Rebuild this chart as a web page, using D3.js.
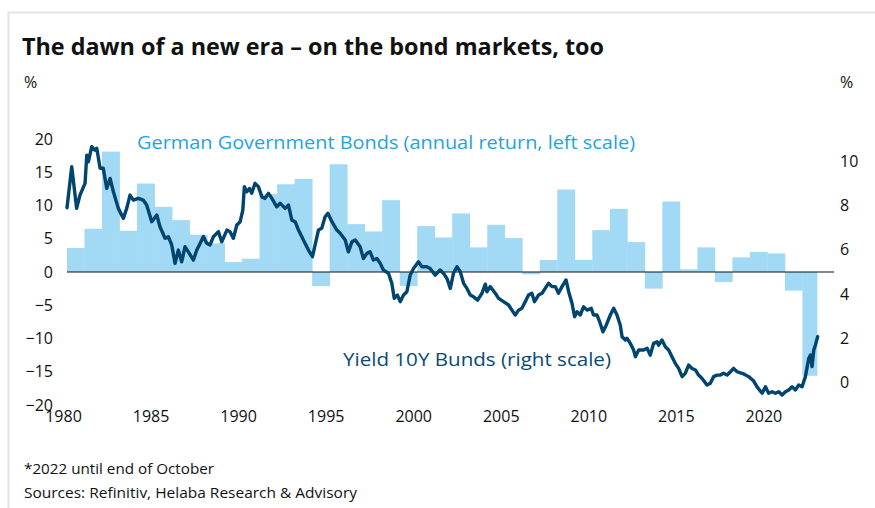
<!DOCTYPE html>
<html><head><meta charset="utf-8">
<script src="https://cdn.jsdelivr.net/npm/d3@7"></script>
<style>body{margin:0;background:#fff} svg{display:block}</style>
</head><body><svg id="c" width="875" height="508"></svg>
<script>
const years = d3.range(1980, 2023);
const bondReturns = [3.6, 6.5, 18.1, 6.2, 13.3, 9.8, 7.8, 5.6, 4.3, 1.5, 2.0, 11.7, 13.2, 14.0, -2.1, 16.2, 7.2, 6.1, 10.8, -2.1, 6.9, 5.2, 8.8, 3.7, 7.1, 5.1, -0.35, 1.8, 12.4, 1.8, 6.3, 9.5, 4.5, -2.5, 10.6, 0.4, 3.7, -1.5, 2.2, 3.0, 2.8, -2.8, -15.6];
const yieldDates = [1980.00,1980.27,1980.55,1980.74,1981.03,1981.13,1981.22,1981.41,1981.60,1981.70,1981.89,1982.07,1982.27,1982.46,1982.65,1982.93,1983.22,1983.41,1983.60,1983.79,1984.07,1984.36,1984.55,1984.84,1985.13,1985.31,1985.60,1985.79,1985.98,1986.17,1986.36,1986.55,1986.74,1986.93,1987.22,1987.41,1987.60,1987.79,1987.98,1988.17,1988.36,1988.65,1988.84,1989.13,1989.31,1989.50,1989.70,1989.89,1990.04,1990.13,1990.27,1990.42,1990.55,1990.74,1990.93,1991.13,1991.31,1991.50,1991.70,1991.98,1992.17,1992.46,1992.65,1992.84,1993.03,1993.22,1993.41,1993.60,1993.79,1994.02,1994.17,1994.36,1994.55,1994.74,1994.90,1995.13,1995.41,1995.60,1995.89,1996.07,1996.27,1996.46,1996.74,1996.93,1997.13,1997.31,1997.50,1997.70,1997.89,1998.07,1998.36,1998.55,1998.69,1998.87,1999.03,1999.22,1999.41,1999.60,1999.79,2000.07,2000.27,2000.55,2000.74,2001.03,2001.31,2001.50,2001.70,2001.89,2002.07,2002.27,2002.46,2002.65,2002.84,2003.03,2003.22,2003.45,2003.70,2003.89,2003.98,2004.17,2004.46,2004.65,2004.93,2005.22,2005.41,2005.60,2005.79,2005.98,2006.17,2006.36,2006.55,2006.70,2006.93,2007.13,2007.31,2007.50,2007.70,2007.89,2008.07,2008.27,2008.50,2008.65,2008.84,2008.99,2009.13,2009.31,2009.50,2009.70,2009.94,2010.07,2010.27,2010.42,2010.61,2010.80,2011.03,2011.22,2011.41,2011.60,2011.70,2011.89,2011.98,2012.17,2012.36,2012.46,2012.65,2012.93,2013.13,2013.31,2013.50,2013.70,2013.79,2013.98,2014.17,2014.36,2014.55,2014.74,2014.93,2015.13,2015.31,2015.50,2015.70,2015.89,2016.07,2016.27,2016.55,2016.74,2016.93,2017.13,2017.31,2017.50,2017.70,2017.89,2018.07,2018.27,2018.46,2018.65,2018.93,2019.22,2019.41,2019.70,2019.89,2020.07,2020.27,2020.46,2020.65,2020.84,2021.03,2021.22,2021.41,2021.60,2021.79,2021.98,2022.17,2022.36,2022.46,2022.55,2022.65,2022.74,2022.87];
const yieldValues = [7.9,9.75,7.87,8.47,9.0,10.27,9.97,10.65,10.5,10.58,9.68,9.68,8.77,9.22,8.62,7.87,7.42,7.87,8.47,8.24,8.32,8.24,8.02,7.27,7.57,7.04,6.52,6.59,6.22,5.39,5.99,5.46,6.14,5.91,5.54,5.99,6.29,6.6,6.3,6.22,6.59,6.82,6.36,6.89,6.82,6.52,7.12,7.27,7.79,8.85,8.62,8.77,8.55,9.0,8.85,8.39,8.32,8.55,8.32,7.94,8.1,7.87,8.02,7.34,7.27,6.89,6.59,6.29,5.99,5.69,6.22,6.89,6.97,7.49,7.65,7.27,6.89,6.75,6.44,5.91,6.36,6.44,6.14,5.61,5.84,5.91,5.54,5.61,5.39,5.09,4.94,4.49,3.81,3.96,3.66,3.96,4.11,4.86,5.16,5.46,5.24,5.24,5.16,4.86,5.09,4.94,4.71,4.26,4.94,5.24,5.01,4.49,4.26,3.96,3.88,3.73,4.04,4.45,4.11,4.34,4.04,3.81,3.66,3.51,3.28,3.06,3.28,3.36,3.66,3.96,4.04,3.66,3.96,4.04,4.26,4.49,4.34,4.34,4.04,4.34,4.64,4.11,3.59,2.98,3.21,3.06,3.43,3.28,3.36,3.06,3.06,2.76,2.3,2.61,3.06,3.36,3.06,2.6,2.08,1.93,2.01,1.78,1.48,1.18,1.48,1.48,1.56,1.25,1.78,1.85,1.7,1.93,1.63,1.48,1.18,0.88,0.65,0.28,0.43,0.8,0.65,0.58,0.35,0.2,-0.1,-0.02,0.28,0.35,0.35,0.43,0.35,0.5,0.65,0.5,0.45,0.4,0.28,0.08,-0.18,-0.47,-0.18,-0.47,-0.4,-0.47,-0.4,-0.55,-0.4,-0.32,-0.18,-0.32,-0.1,-0.18,0.28,1.1,1.25,0.73,1.48,1.7,2.08];
const leftTicks = [20, 15, 10, 5, 0, -5, -10, -15, -20];
const rightTicks = [0, 2, 4, 6, 8, 10];
const xTicks = [1980, 1985, 1990, 1995, 2000, 2005, 2010, 2015, 2020];
const lastYearEnd = 2022 + 10 / 12;

const FONT = "'Open Sans', 'Noto Sans', sans-serif";
const svg = d3.select('#c').style('font-family', FONT);

const x = d3.scaleLinear().domain([1980, lastYearEnd]).range([67, 817]);
const yL = d3.scaleLinear().domain([-20, 20]).range([405, 139]);
const yR = d3.scaleLinear().domain([-1, 11]).range([405, 139]);

// frame
svg.append('path').attr('d', 'M8.5,508 V12.5 H875').attr('fill', 'none')
  .attr('stroke', '#e3e3e3').attr('stroke-width', 2);

// title
svg.append('text').attr('x', 22).attr('y', 55).text('The dawn of a new era – on the bond markets, too')
  .attr('font-size', 24).attr('font-weight', 700).attr('fill', '#111')
  .attr('textLength', 582).attr('lengthAdjust', 'spacingAndGlyphs');
svg.append('text').attr('x', 24).attr('y', 88).text('%').attr('font-size', 16).attr('fill', '#111');
svg.append('text').attr('x', 840).attr('y', 88).text('%').attr('font-size', 16).attr('fill', '#111');

// bars
const bars = years.map((yr, i) => ({ yr, v: bondReturns[i], end: i === years.length - 1 ? lastYearEnd : yr + 1 }));
svg.append('g').selectAll('rect').data(bars).join('rect')
  .attr('x', d => x(d.yr))
  .attr('width', d => x(d.end) - x(d.yr) + 0.4)
  .attr('y', d => Math.min(yL(d.v), yL(0)))
  .attr('height', d => Math.abs(yL(d.v) - yL(0)))
  .attr('fill', '#a2d9f4');

// zero line
svg.append('line').attr('x1', 67).attr('x2', 834).attr('y1', yL(0)).attr('y2', yL(0))
  .attr('stroke', '#111').attr('stroke-width', 1.2);

// yield line
const pts = yieldDates.map((t, i) => ({ t, v: yieldValues[i] }));
svg.append('path').datum(pts)
  .attr('d', d3.line().x(d => x(d.t)).y(d => yR(d.v)))
  .attr('fill', 'none').attr('stroke', '#004470').attr('stroke-width', 3.4)
  .attr('stroke-linejoin', 'round').attr('stroke-linecap', 'round');

// axes
const styleAxis = g => {
  g.select('.domain').remove();
  g.selectAll('text').attr('font-size', 16).attr('fill', '#111').attr('font-family', FONT);
};
svg.append('g').attr('transform', 'translate(53,0)')
  .call(d3.axisLeft(yL).tickValues(leftTicks).tickSize(0).tickPadding(0).tickFormat(d3.format('d')))
  .call(styleAxis);
svg.append('g').attr('transform', 'translate(840,0)')
  .call(d3.axisRight(yR).tickValues(rightTicks).tickSize(0).tickPadding(0))
  .call(styleAxis);
svg.append('g').attr('transform', 'translate(-4,408)')
  .call(d3.axisBottom(x).tickValues(xTicks).tickSize(0).tickPadding(3).tickFormat(d3.format('d')))
  .call(styleAxis);

// series labels
svg.append('text').attr('x', 137).attr('y', 149).text('German Government Bonds (annual return, left scale)')
  .attr('font-size', 19).attr('fill', '#1fa3df')
  .attr('textLength', 498).attr('lengthAdjust', 'spacingAndGlyphs');
svg.append('text').attr('x', 343).attr('y', 366).text('Yield 10Y Bunds (right scale)')
  .attr('font-size', 19).attr('fill', '#0b4a73')
  .attr('textLength', 268).attr('lengthAdjust', 'spacingAndGlyphs');

// footnotes
svg.append('text').attr('x', 24).attr('y', 474).text('*2022 until end of October')
  .attr('font-size', 15).attr('fill', '#111')
  .attr('textLength', 190).attr('lengthAdjust', 'spacingAndGlyphs');
svg.append('text').attr('x', 24).attr('y', 498).text('Sources: Refinitiv, Helaba Research & Advisory')
  .attr('font-size', 15).attr('fill', '#111')
  .attr('textLength', 333).attr('lengthAdjust', 'spacingAndGlyphs');
</script></body></html>
